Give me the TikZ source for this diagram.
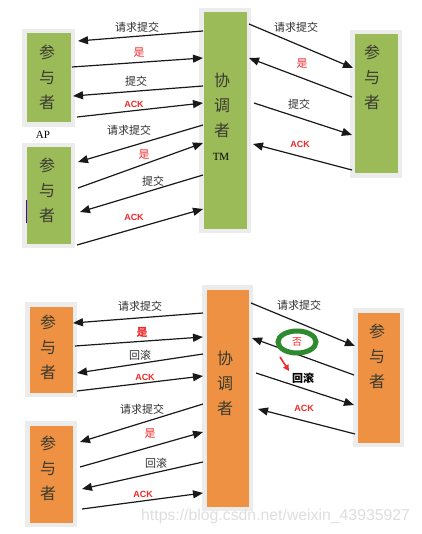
\documentclass[tikz,border=0pt]{standalone}
\usepackage{fontspec}
\setmainfont{Liberation Serif}
\setsansfont{Liberation Sans}
\newfontfamily\cjk{Noto Sans CJK SC}
\usetikzlibrary{arrows.meta,calc}
\definecolor{pgreen}{HTML}{9BBB59}
\definecolor{porange}{HTML}{EE9142}
\definecolor{framecol}{HTML}{ECECEC}
\definecolor{gshadow}{HTML}{A8AD8C}
\definecolor{oshadow}{HTML}{CFA882}
\definecolor{msgred}{HTML}{F02A2A}
\definecolor{boxtext}{HTML}{3A3A30}
\definecolor{lbltext}{HTML}{303030}
\definecolor{circgreen}{HTML}{2E8A2E}
\pgfdeclarelayer{bg}
\pgfsetlayers{bg,main}
\begin{document}
\begin{tikzpicture}[x=1pt,y=-1pt,
  pbox/.style={draw=framecol, line width=4.5pt, fill=#1, inner sep=0pt},
  boxtxt/.style={font=\cjk\fontsize{16}{25}\selectfont, text=boxtext, align=center, inner sep=0pt},
  lbl/.style={font=\cjk\fontsize{11}{12}\selectfont, text=lbltext, inner sep=0pt},
  redlbl/.style={font=\cjk\fontsize{11}{12}\selectfont, text=msgred, inner sep=0pt},
  redbold/.style={font=\cjk\bfseries\fontsize{11}{12}\selectfont, text=msgred, inner sep=0pt},
  acklbl/.style={font=\sffamily\bfseries\fontsize{9}{10}\selectfont, text=msgred, inner sep=0pt},
  serlbl/.style={font=\rmfamily\fontsize{11}{12}\selectfont, text=black, inner sep=0pt},
  msg/.style={draw=black!90, line width=1.2pt, -{Triangle[length=10pt,width=8pt]}}]
\useasboundingbox (0,0) rectangle (421,534);
\fill[white] (0,0) rectangle (421,534);

% ---------- top panel boxes ----------
\node[pbox=pgreen, minimum width=48.5, minimum height=93.5] (TLP1) at (48.5,78) {};
\node[pbox=pgreen, minimum width=48.5, minimum height=100.5] (TLP2) at (48.5,195.5) {};
\node[pbox=pgreen, minimum width=47.5, minimum height=220.5] (TC) at (225,120.5) {};
\node[pbox=pgreen, minimum width=47.5, minimum height=143.5] (TRP) at (376,104) {};

\node[boxtxt] (TLP1t) at (47,77) {参\\与\\者};
\node[boxtxt] (TLP2t) at (47,190) {参\\与\\者};
\node[boxtxt] (TCt) at (222,105) {协\\调\\者};
\node[boxtxt] (TRPt) at (372,77) {参\\与\\者};
\node[serlbl] (AP) at (43,135) {AP};
\node[serlbl] (TM) at (221,157) {TM};
\draw[color=violet!60!blue, line width=0.8pt] (26,200) -- (26,223);

% ---------- bottom panel boxes ----------
\node[pbox=porange, minimum width=47.5, minimum height=90.5] (BLP1) at (51,349.5) {};
\node[pbox=porange, minimum width=47.5, minimum height=101.5] (BLP2) at (51,474) {};
\node[pbox=porange, minimum width=46.5, minimum height=221.5] (BC) at (227.5,398) {};
\node[pbox=porange, minimum width=46.5, minimum height=134.5] (BRP) at (378.5,377.5) {};

\node[boxtxt] (BLP1t) at (48,347) {参\\与\\者};
\node[boxtxt] (BLP2t) at (48,468) {参\\与\\者};
\node[boxtxt] (BCt) at (225,383) {协\\调\\者};
\node[boxtxt] (BRPt) at (377,356) {参\\与\\者};

% shadows
\begin{pgfonlayer}{bg}
\foreach \n/\c in {TLP1/gshadow,TLP2/gshadow,TC/gshadow,TRP/gshadow,BLP1/oshadow,BLP2/oshadow,BC/oshadow,BRP/oshadow}
  \fill[\c] ([shift={(1.5,3)}]\n.north west) rectangle ([shift={(1.5,3)}]\n.south east);
\end{pgfonlayer}

% ---------- top-left messages ----------
\draw[msg] ([xshift=4]TC.west |- 0,31) -- ([xshift=3]TLP1.east |- 0,41);
\draw[msg] ([xshift=-3]TLP1.east |- 0,67) -- ([xshift=4]TC.west |- 0,58);
\draw[msg] ([xshift=4]TC.west |- 0,86) -- ([xshift=-2]TLP1.east |- 0,96);
\draw[msg] ([xshift=2]TLP1.east |- 0,117) -- ([xshift=4]TC.west |- 0,103);
\draw[msg] ([xshift=4]TC.west |- 0,125) -- ([xshift=3]TLP2.east |- 0,162);
\draw[msg] ([xshift=3]TLP2.east |- 0,188) -- ([xshift=4]TC.west |- 0,143);
\draw[msg] ([xshift=4]TC.west |- 0,175) -- ([xshift=5]TLP2.east |- 0,212);
\draw[msg] ([xshift=2]TLP2.east |- 0,245) -- ([xshift=4]TC.west |- 0,209);

\node[lbl] (a1) at (137,27) {请求提交};
\node[redlbl] (a2) at (139,53) {是};
\node[lbl] (a3) at (136,81) {提交};
\node[acklbl] (a4) at (134,104) {ACK};
\node[lbl] (a5) at (129,130) {请求提交};
\node[redlbl] (a6) at (144,155) {是};
\node[lbl] (a7) at (153,181) {提交};
\node[acklbl] (a8) at (134,217) {ACK};

% ---------- top-right messages ----------
\draw[msg] ([xshift=-2]TC.east |- 0,24) -- ([xshift=3]TRP.west |- 0,68);
\draw[msg] ([xshift=2]TRP.west |- 0,97) -- ([xshift=-2]TC.east |- 0,58);
\draw[msg] ([xshift=3]TC.east |- 0,103) -- ([xshift=2]TRP.west |- 0,135);
\draw[msg] ([xshift=2]TRP.west |- 0,170) -- ([xshift=2]TC.east |- 0,144);

\node[lbl] (b1) at (296,27) {请求提交};
\node[redlbl] (b2) at (302,64) {是};
\node[lbl] (b3) at (299,104) {提交};
\node[acklbl] (b4) at (300,144) {ACK};

% ---------- bottom-left messages ----------
\draw[msg] ([xshift=1]BC.west |- 0,313) -- ([xshift=-4]BLP1.east |- 0,323);
\draw[msg] ([xshift=-2]BLP1.east |- 0,346) -- ([xshift=1]BC.west |- 0,337);
\draw[msg] ([xshift=1]BC.west |- 0,354) -- (BLP1.east |- 0,373);
\draw[msg] (BLP1.east |- 0,391) -- ([xshift=1]BC.west |- 0,376);
\draw[msg] ([xshift=1]BC.west |- 0,404) -- ([xshift=3]BLP2.east |- 0,442);
\draw[msg] ([xshift=3]BLP2.east |- 0,467) -- ([xshift=1]BC.west |- 0,432);
\draw[msg] ([xshift=1]BC.west |- 0,462) -- ([xshift=5]BLP2.east |- 0,489);
\draw[msg] ([xshift=5]BLP2.east |- 0,509) -- ([xshift=1]BC.west |- 0,493);

\node[lbl] (c1) at (140,306) {请求提交};
\node[redbold] (c2) at (142,332) {是};
\node[lbl] (c3) at (140,355) {回滚};
\node[acklbl] (c4) at (145,377) {ACK};
\node[lbl] (c5) at (142,409) {请求提交};
\node[redlbl] (c6) at (150,434) {是};
\node[lbl] (c7) at (156,463) {回滚};
\node[acklbl] (c8) at (143,494) {ACK};

% ---------- bottom-right messages ----------
\draw[msg] ([xshift=-2]BC.east |- 0,303) -- ([xshift=2]BRP.west |- 0,346);
\draw[msg] ([xshift=1]BRP.west |- 0,375) -- ([xshift=-1]BC.east |- 0,338);
\draw[msg] ([xshift=3]BC.east |- 0,373) -- ([xshift=1]BRP.west |- 0,405);
\draw[msg] ([xshift=2]BRP.west |- 0,434) -- ([xshift=5]BC.east |- 0,409);

\node[lbl] (d1) at (299,305) {请求提交};
\node[redlbl, font=\cjk\fontsize{10}{11}\selectfont] (d2) at (297,342) {否};
\draw[circgreen, line width=5pt] (d2) ellipse [x radius=19, y radius=11];
\coordinate (rs) at (280,357);
\coordinate (re) at (289,371);
\draw[msgred, line width=1.6pt, -{Triangle[length=6pt,width=6pt]}] (rs) -- (re);
\node[lbl, font=\cjk\bfseries\fontsize{11}{12}\selectfont, text=black] (d3) at (303,378) {回滚};
\node[acklbl] (d4) at (304,408) {ACK};

% watermark
\node[font=\sffamily\fontsize{15.8}{17}\selectfont, text=gray!30, opacity=0.85, anchor=west, inner sep=0pt] (wm) at (141,516) {https://blog.csdn.net/weixin\_43935927};
\end{tikzpicture}
\end{document}
